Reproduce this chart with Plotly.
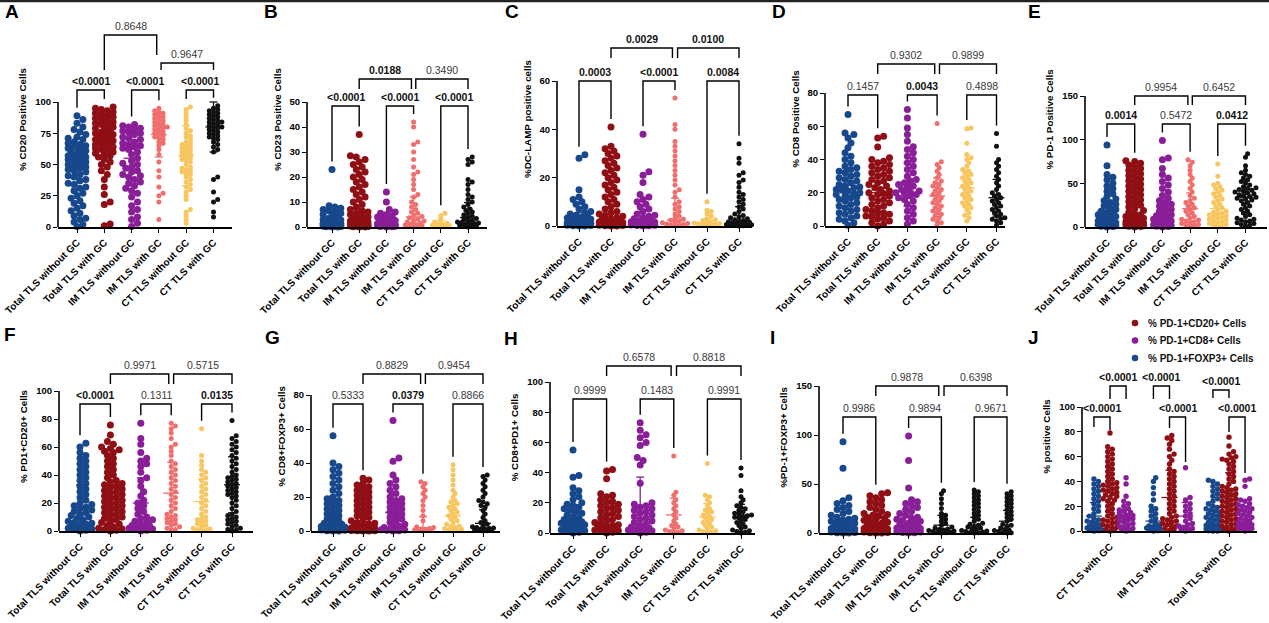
import plotly.graph_objects as go

W, H = 1269, 623
FONT = "Liberation Sans"
BLUE, RED, PURPLE, PINK, YELLOW, BLACK = "#17488c", "#8f0f14", "#8a1e98", "#f06e6e", "#f7c65e", "#111111"

categories = ["Total TLS without GC", "Total TLS with GC", "IM TLS without GC",
              "IM TLS with GC", "CT TLS without GC", "CT TLS with GC"]
j_categories = ["CT TLS with GC", "IM TLS with GC", "Total TLS with GC"]
j_series = ["% PD-1+CD20+ Cells", "% PD-1+CD8+ Cells", "% PD-1+FOXP3+ Cells"]

# ---------------- A : % CD20 ----------------
A_tot_wo = [0.5, 2, 4, 6, 7, 9, 11, 13, 15, 17, 19, 21, 23, 25, 27, 29, 31, 32, 34, 35, 37, 38, 40, 41, 42, 44, 45, 46, 47, 48, 49, 50, 51, 52, 53, 54, 55, 56, 57, 57, 58, 59, 60, 61, 62, 63, 64, 65, 66, 67, 68, 70, 71, 72, 74, 76, 78, 80, 83, 86, 89]
A_tot_w = [1, 2.5, 18, 20, 26, 32, 38, 42, 45, 48, 50, 52, 54, 56, 57, 58, 59, 60, 61, 62, 63, 64, 65, 66, 66, 67, 68, 68, 69, 70, 70, 71, 72, 72, 73, 74, 75, 75, 76, 77, 78, 79, 80, 81, 82, 83, 84, 85, 86, 87, 88, 89, 90, 91, 92, 93, 94, 95, 96]
A_im_wo = [0.5, 3, 6, 8, 12, 14, 17, 20, 24, 27, 29, 31, 33, 35, 36, 38, 40, 41, 42, 44, 45, 47, 48, 50, 51, 53, 55, 58, 60, 62, 63, 64, 65, 66, 67, 68, 70, 71, 72, 74, 75, 76, 77, 78, 79, 80, 81, 82]
A_im_w = [6, 20, 25, 27, 32, 40, 45, 52, 58, 62, 65, 67, 68, 70, 71, 72, 73, 74, 75, 76, 77, 78, 79, 80, 80, 81, 82, 83, 84, 85, 86, 87, 88, 89, 90, 91, 92, 93, 95]
A_ct_wo = [3, 6, 9, 12, 14, 22, 25, 28, 30, 32, 34, 36, 38, 40, 42, 43, 44, 45, 46, 47, 48, 50, 52, 53, 54, 55, 56, 57, 58, 59, 60, 61, 62, 63, 64, 65, 66, 67, 68, 70, 72, 73, 75, 77, 79, 82, 85, 88, 91, 94, 96]
A_ct_w = [8, 12, 20, 22, 28, 38, 40, 60, 62, 64, 66, 68, 70, 71, 72, 73, 74, 75, 76, 77, 78, 79, 80, 80, 81, 82, 83, 84, 84, 85, 86, 87, 88, 89, 90, 91, 92, 93, 94, 95, 97]
A_mean = [49, 70, 55, 74, 57, 80]
A_sd = [22, 20, 22, 18, 24, 20]

# ---------------- B : % CD23 ----------------
B_tot_wo = [0, 0, 0.1, 0.2, 0.2, 0.3, 0.4, 0.5, 0.5, 0.6, 0.7, 0.8, 0.9, 1, 1, 1.1, 1.2, 1.3, 1.4, 1.5, 1.6, 1.8, 2, 2.2, 2.5, 2.8, 3, 3.5, 4, 4.5, 5, 5.5, 6, 6.5, 7, 7.5, 8, 8.5, 23]
B_tot_w = [0, 0, 0.1, 0.2, 0.3, 0.4, 0.5, 0.6, 0.7, 0.8, 0.9, 1, 1.1, 1.2, 1.4, 1.6, 1.8, 2, 2.2, 2.4, 2.7, 3, 3.3, 3.7, 4, 4.5, 5, 5.5, 6, 6.5, 7, 8, 9, 10, 11, 12, 13, 14, 15, 16, 17, 18, 19, 20, 21, 22, 23, 24, 25, 26, 27, 28, 28.5, 37]
B_im_wo = [0, 0.1, 0.2, 0.3, 0.4, 0.5, 0.6, 0.7, 0.8, 0.9, 1, 1.2, 1.4, 1.6, 1.8, 2, 2.3, 2.6, 3, 3.5, 4, 4.5, 5, 5.5, 6, 7, 10, 14]
B_im_w = [0, 0.2, 0.4, 0.6, 0.8, 1, 1.3, 1.6, 2, 2.4, 2.8, 3.2, 3.7, 4.2, 4.8, 5.5, 6, 7, 8, 9, 10, 12, 13, 15, 17, 19, 21, 22, 24, 27, 30, 33, 34, 40, 42]
B_ct_wo = [0, 0.2, 0.4, 0.6, 0.8, 1, 1.2, 1.5, 2, 3, 4.5, 5.5]
B_ct_w = [0, 0.2, 0.4, 0.6, 0.8, 1, 1.2, 1.4, 1.6, 1.8, 2, 2.3, 2.6, 3, 3.4, 3.8, 4.3, 4.8, 5.4, 6, 6.6, 7.2, 8, 9, 10, 11, 12, 13, 15, 17, 18, 19, 25, 26, 27, 28]
B_mean = [1.5, 2.5, 1.5, 4, 1, 3.8]
B_sd = [3, 6, 2.5, 8, 1.5, 6]

# ---------------- C : % DC-LAMP ----------------
C_tot_wo = [0, 0, 0.1, 0.2, 0.3, 0.4, 0.5, 0.6, 0.7, 0.8, 0.9, 1, 1.1, 1.2, 1.4, 1.6, 1.8, 2, 2.2, 2.5, 2.8, 3, 3.3, 3.6, 4, 4.5, 5, 5.5, 6, 7, 8, 9, 10, 11, 12, 15, 28, 29.5]
C_tot_w = [0, 0, 0.1, 0.2, 0.3, 0.4, 0.5, 0.6, 0.8, 1, 1.1, 1.3, 1.5, 1.7, 2, 2.2, 2.5, 2.8, 3, 3.5, 4, 4.5, 5, 5.5, 6, 7, 8, 9, 10, 11, 12, 13, 14, 15, 16, 17, 18, 19, 20, 21, 22, 23, 24, 25, 26, 27, 28, 29, 30, 31, 32, 33, 41]
C_im_wo = [0, 0.1, 0.2, 0.3, 0.4, 0.5, 0.6, 0.7, 0.8, 1, 1.2, 1.4, 1.6, 1.8, 2, 2.3, 2.6, 3, 3.5, 4, 4.5, 5, 6, 7, 8, 9, 10, 11, 12, 13, 18, 21, 22.5, 38]
C_im_w = [0, 0.2, 0.4, 0.6, 0.8, 1, 1.3, 1.6, 2, 2.4, 2.8, 3.3, 4, 5, 6, 7, 8, 9, 10, 12, 14, 15, 17, 19, 21, 23, 25, 27, 29, 31, 33, 35, 40, 42, 53]
C_ct_wo = [0, 0.2, 0.4, 0.6, 0.8, 1, 1.2, 1.5, 1.8, 2.2, 2.6, 3, 4, 5, 6, 6.5, 10]
C_ct_w = [0, 0.1, 0.2, 0.3, 0.4, 0.5, 0.6, 0.8, 1, 1.2, 1.4, 1.6, 1.8, 2, 2.3, 2.6, 3, 3.4, 3.8, 4.3, 5, 6, 7, 8, 9, 10, 11, 12, 13, 14, 16, 18, 19, 21, 22, 26, 28, 34]
C_mean = [1.5, 2, 1.5, 2.5, 1, 2]
C_sd = [4, 7, 5, 9, 2, 6]

# ---------------- D : % CD8 ----------------
D_tot_wo = [0.5, 2, 3, 4, 5, 6, 7, 8, 9, 10, 11, 12, 13, 14, 15, 16, 17, 17.5, 18, 19, 19.5, 20, 21, 21.5, 22, 23, 23.5, 24, 25, 26, 27, 28, 29, 30, 31, 32, 33, 34, 35, 36, 38, 40, 42, 44, 47, 50, 53, 55, 56, 67]
D_tot_w = [0, 1, 2, 3, 4, 5, 5.5, 6, 7, 7.5, 8, 9, 10, 11, 12, 13, 14, 15, 16, 17, 18, 19, 19.5, 20, 21, 22, 23, 24, 25, 26, 27, 28, 29, 30, 31, 32, 33, 34, 35, 36, 37, 38, 39, 40, 41, 47.5, 53, 54]
D_im_wo = [1, 3, 5, 7, 9, 11, 13, 15, 16, 17, 18, 19, 19.5, 20, 20.5, 21, 22, 23, 24, 25, 26, 27, 28, 30, 32, 34, 36, 38, 40, 42, 44, 46, 47.7, 51, 55, 59, 65, 70]
D_im_w = [0.5, 2, 3, 4, 5, 6, 7, 8, 9, 10, 11, 12, 13, 14, 15, 16, 17, 18, 19, 20, 21, 22, 23, 24, 25, 26, 27, 29, 31, 33, 35, 37, 38.7, 61.7]
D_ct_wo = [3, 5, 6.5, 8, 10, 11, 12, 13, 14, 15, 16, 17, 18, 19, 20, 21, 22, 23, 24, 25, 26, 27, 28, 29, 30, 31, 32, 33, 34, 36, 38, 40, 41, 43, 49.7, 58.5, 59]
D_ct_w = [0.5, 2, 3, 4, 4.5, 5, 6, 7, 8, 9, 10, 11, 12, 13, 14, 15, 16, 17, 18, 19, 20, 22, 24, 26, 28, 30, 32, 34, 36, 38, 40, 48, 55.7]
D_mean = [22, 20, 25, 18, 23, 17]
D_sd = [12, 11, 13, 11, 11, 11]

# ---------------- E : % PD-1 ----------------
E_tot_wo = [0, 0.5, 1, 1.5, 2, 2.5, 3, 3.5, 4, 4.5, 5, 6, 7, 8, 9, 10, 11, 12, 13, 14, 15, 16, 17, 18, 20, 22, 24, 26, 28, 30, 32, 35, 38, 41, 44, 47, 50, 54, 57, 60, 70, 94]
E_tot_w = [0, 0.5, 1, 1.5, 2, 2.5, 3, 3.5, 4, 4.5, 5, 5.5, 6, 6.5, 7, 8, 9, 10, 11, 12, 13, 14, 15, 17, 19, 21, 23, 25, 27, 29, 31, 33, 35, 37, 39, 41, 43, 45, 47, 49, 51, 53, 55, 57, 59, 61, 63, 65, 67, 69, 71, 73, 75, 76]
E_im_wo = [0, 0.5, 1, 1.5, 2, 2.5, 3, 4, 5, 6, 7, 8, 9, 10, 11, 12, 13, 14, 16, 18, 20, 22, 24, 26, 28, 30, 33, 36, 40, 44, 48, 52, 56, 60, 67, 77, 79, 99]
E_im_w = [0, 1, 2, 3, 4, 5, 6, 7, 8, 9, 10, 12, 14, 16, 18, 20, 22, 24, 26, 28, 30, 33, 36, 40, 44, 48, 52, 56, 60, 65, 70, 74, 77]
E_ct_wo = [0, 1, 2, 3, 4, 5, 6, 7, 8, 9, 10, 11, 12, 13, 14, 15, 16, 17, 18, 20, 22, 24, 26, 28, 30, 32, 34, 36, 38, 40, 42, 44, 46, 48, 50, 58, 72]
E_ct_w = [1, 2, 3, 4, 5, 6, 7, 8, 9, 10, 12, 14, 16, 18, 20, 22, 24, 26, 28, 30, 31, 32, 33, 34, 35, 36, 37, 38, 39, 40, 41, 42, 43, 44, 45, 46, 48, 50, 52, 54, 56, 58, 60, 62, 65, 70, 80, 84]
E_mean = [13, 27, 15, 21, 21, 34]
E_sd = [15, 20, 17, 18, 15, 19]

# ---------------- F : % PD1+CD20+ ----------------
F_tot_wo = [0, 0.5, 1, 1.5, 2, 2.5, 3, 3.5, 4, 4.5, 5, 5.5, 6, 7, 8, 9, 10, 11, 12, 13, 14, 15, 16, 17, 18, 19, 20, 22, 24, 26, 28, 30, 32, 34, 36, 38, 40, 42, 44, 46, 48, 50, 52, 54, 56, 60, 62.6]
F_tot_w = [0, 0.5, 1, 1.5, 2, 3, 4, 5, 6, 7, 8, 9, 10, 11, 12, 13, 14, 15, 16, 17, 18, 19, 20, 21, 22, 23, 24, 25, 26, 27, 28, 29, 30, 31, 32, 33, 34, 35, 36, 38, 40, 42, 44, 46, 48, 50, 52, 54, 56, 57, 58, 59, 60, 62, 64, 68.6, 75.7]
F_im_wo = [0, 0.5, 1, 1.5, 2, 2.5, 3, 3.5, 4, 5, 6, 7, 8, 9, 10, 12, 14, 16, 18, 20, 22, 25, 28, 32, 36, 38, 42, 46, 48, 50, 52, 56, 62, 66, 77]
F_im_w = [0.5, 1, 2, 3, 4, 5, 6, 7, 8, 9, 10, 11, 12, 14, 16, 18, 20, 22, 24, 26, 28, 30, 32, 34, 36, 38, 40, 42, 44, 46, 48, 50, 54, 57, 60, 62, 66, 70, 73, 75, 77]
F_ct_wo = [0, 0.5, 1, 1.5, 2, 3, 4, 5, 6, 7, 8, 9, 10, 12, 14, 16, 18, 20, 22, 24, 26, 28, 30, 32, 34, 36, 38, 40, 42, 44, 47, 50, 54, 73]
F_ct_w = [0, 0.5, 1, 2, 3, 4, 5, 6, 7, 8, 9, 10, 11, 12, 14, 16, 18, 20, 22, 24, 25, 26, 27, 28, 29, 30, 31, 32, 33, 34, 35, 36, 37, 38, 39, 40, 42, 44, 46, 48, 50, 52, 54, 56, 58, 60, 62, 64, 66, 68, 79]
F_mean = [17, 28, 20, 27, 21, 33]
F_sd = [16, 19, 18, 22, 16, 20]

# ---------------- G : % CD8+FOXP3+ ----------------
G_tot_wo = [0, 0, 0.2, 0.4, 0.6, 0.8, 1, 1.2, 1.4, 1.6, 1.8, 2, 2.3, 2.6, 3, 3.5, 4, 4.5, 5, 6, 7, 8, 9, 10, 11, 12, 13, 14, 15, 16, 17, 18, 19, 20, 22, 24, 26, 28, 30, 32, 34, 36, 38, 40, 56]
G_tot_w = [0, 0, 0.1, 0.2, 0.3, 0.4, 0.5, 0.6, 0.8, 1, 1.2, 1.4, 1.6, 1.8, 2, 2.3, 2.6, 3, 3.5, 4, 4.5, 5, 6, 7, 8, 9, 10, 11, 12, 13, 14, 15, 16, 17, 18, 19, 20, 21, 22, 23, 24, 25, 26, 27, 28, 30, 31]
G_im_wo = [0, 0.2, 0.4, 0.6, 0.8, 1, 1.3, 1.6, 2, 2.5, 3, 4, 5, 6, 7, 8, 9, 10, 11, 12, 13, 14, 15, 16, 17, 18, 19, 20, 22, 24, 26, 28, 30, 33, 41, 43, 65]
G_im_w = [0, 0.2, 0.4, 0.6, 0.8, 1, 1.2, 1.5, 2, 2.5, 6, 9, 12, 15, 18, 20, 22, 24, 26, 28, 29]
G_ct_wo = [0, 0.3, 0.6, 1, 1.5, 2, 2.5, 3, 4, 5, 6, 7, 8, 9, 10, 11, 12, 13, 14, 15, 16, 17, 18, 20, 22, 24, 27, 30, 33, 36, 39]
G_ct_w = [0, 0.2, 0.4, 0.6, 0.8, 1, 1.2, 1.5, 1.8, 2, 2.5, 3, 4, 5, 6, 8, 10, 12, 14, 15, 16, 17, 18, 20, 22, 24, 26, 28, 30, 32, 33]
G_mean = [9.5, 5.5, 11, 1.5, 9, 4.5]
G_sd = [11, 8, 11, 7, 9, 8]

# ---------------- H : % CD8+PD1+ ----------------
H_tot_wo = [0, 0.5, 1, 1.5, 2, 2.5, 3, 3.5, 4, 4.5, 5, 5.5, 6, 6.5, 7, 7.5, 8, 9, 10, 11, 12, 13, 14, 15, 16, 17, 18, 19, 20, 22, 24, 26, 28, 30, 37, 38, 55]
H_tot_w = [0, 0.5, 1, 1.5, 2, 2.5, 3, 3.5, 4, 4.5, 5, 5.5, 6, 7, 8, 9, 10, 11, 12, 13, 14, 15, 16, 17, 18, 19, 20, 21, 22, 24, 25, 26, 36, 41, 42]
H_im_wo = [0, 0.5, 1, 1.5, 2, 2.5, 3, 3.5, 4, 5, 6, 7, 8, 9, 10, 11, 12, 13, 14, 15, 16, 17, 18, 19, 20, 33, 45, 48, 50, 58, 60, 63, 65, 68, 73]
H_im_w = [0, 0.5, 1, 1.5, 2, 3, 4, 5, 6, 8, 10, 12, 14, 16, 18, 20, 22, 25, 27, 51]
H_ct_wo = [0, 0.5, 1, 1.5, 2, 3, 4, 5, 6, 7, 8, 9, 10, 11, 12, 13, 14, 15, 16, 18, 20, 22, 24, 25, 46]
H_ct_w = [0, 0.5, 1, 1.5, 2, 3, 4, 5, 6, 7, 8, 9, 10, 10.5, 11, 11.5, 12, 12.5, 13, 14, 15, 16, 17, 18, 20, 22, 24, 28, 38, 43]
H_mean = [9, 9.5, 17, 12, 10.5, 10]
H_sd = [10, 8, 20, 11, 9, 9]

# ---------------- I : % PD-1+FOXP3+ ----------------
I_tot_wo = [0, 0, 0.3, 0.6, 1, 1.3, 1.6, 2, 2.3, 2.6, 3, 3.5, 4, 4.5, 5, 5.5, 6, 7, 8, 9, 10, 11, 12, 13, 14, 15, 16, 18, 20, 22, 24, 26, 28, 30, 33, 36, 66, 93]
I_tot_w = [0, 0, 0.3, 0.6, 1, 1.3, 1.6, 2, 2.4, 2.8, 3.2, 3.6, 4, 4.5, 5, 6, 7, 8, 9, 10, 11, 12, 13, 14, 15, 16, 17, 18, 19, 20, 22, 24, 26, 28, 30, 32, 34, 36, 38, 40, 41]
I_im_wo = [0, 0.3, 0.6, 1, 1.3, 1.6, 2, 2.4, 2.8, 3.2, 3.6, 4, 4.5, 5, 6, 7, 8, 9, 10, 11, 12, 13, 14, 15, 16, 18, 20, 22, 24, 26, 28, 30, 32, 34, 46, 74, 99]
I_im_w = [0, 0.3, 0.6, 1, 1.5, 2, 2.5, 3, 3.5, 4, 5, 6, 8, 10, 12, 14, 16, 18, 20, 25, 30, 35, 40, 43]
I_ct_wo = [0, 0.3, 0.6, 1, 1.5, 2, 2.5, 3, 4, 5, 6, 7, 8, 9, 10, 12, 14, 16, 18, 20, 22, 24, 26, 28, 30, 32, 34, 36, 38, 40, 42, 44]
I_ct_w = [0, 0.3, 0.6, 1, 1.5, 2, 2.5, 3, 3.5, 4, 5, 6, 7, 8, 9, 10, 12, 14, 16, 18, 20, 22, 24, 26, 28, 30, 32, 34, 36, 38, 40, 42]
I_mean = [5, 10, 6, 8, 6, 12]
I_sd = [10, 10, 12, 10, 10, 11]

# ---------------- p-value labels (label, bold) ----------------
A_p = [("<0.0001", 1), ("<0.0001", 1), ("<0.0001", 1), ("0.8648", 0), ("0.9647", 0)]
B_p = [("<0.0001", 1), ("<0.0001", 1), ("<0.0001", 1), ("0.0188", 1), ("0.3490", 0)]
C_p = [("0.0003", 1), ("<0.0001", 1), ("0.0084", 1), ("0.0029", 1), ("0.0100", 1)]
D_p = [("0.1457", 0), ("0.0043", 1), ("0.4898", 0), ("0.9302", 0), ("0.9899", 0)]
E_p = [("0.0014", 1), ("0.5472", 0), ("0.0412", 1), ("0.9954", 0), ("0.6452", 0)]
F_p = [("<0.0001", 1), ("0.1311", 0), ("0.0135", 1), ("0.9971", 0), ("0.5715", 0)]
G_p = [("0.5333", 0), ("0.0379", 1), ("0.8866", 0), ("0.8829", 0), ("0.9454", 0)]
H_p = [("0.9999", 0), ("0.1483", 0), ("0.9991", 0), ("0.6578", 0), ("0.8818", 0)]
I_p = [("0.9986", 0), ("0.9894", 0), ("0.9671", 0), ("0.9878", 0), ("0.6398", 0)]
J_p = [("<0.0001", 1)] * 6

STD_COLORS = [BLUE, RED, PURPLE, PINK, YELLOW, BLACK]
I_COLORS = [BLUE, RED, PURPLE, BLACK, BLACK, BLACK]

# geometry (pixels): y-axis x, x-axis end, first category, spacing, zero y, top tick y
panels = [
    dict(L="A", row=0, ax0=58, ax1=232, c0=77, dx=27.3, y0=227, yt=102, ytv=100, ticks=[0, 25, 50, 75, 100],
         title="% CD20 Positive Cells", data=[A_tot_wo, A_tot_w, A_im_wo, A_im_w, A_ct_wo, A_ct_w],
         mean=A_mean, sd=A_sd, colors=STD_COLORS, p=A_p, low=90, up=[(35, 70, 55), (63, 70, 70)], lx=(3, 12)),
    dict(L="B", row=0, ax0=307, ax1=487, c0=332, dx=27.2, y0=227, yt=102, ytv=50, ticks=[0, 10, 20, 30, 40, 50],
         title="% CD23 Positive Cells", data=[B_tot_wo, B_tot_w, B_im_wo, B_im_w, B_ct_wo, B_ct_w],
         mean=B_mean, sd=B_sd, colors=STD_COLORS, p=B_p, low=106, up=[(79, 89, 89), (79, 89, 89)], lx=(262, 12)),
    dict(L="C", row=0, ax0=557, ax1=752, c0=579, dx=32, y0=226, yt=81, ytv=60, ticks=[0, 20, 40, 60],
         title="%DC-LAMP positive cells", data=[C_tot_wo, C_tot_w, C_im_wo, C_im_w, C_ct_wo, C_ct_w],
         mean=C_mean, sd=C_sd, colors=STD_COLORS, p=C_p, low=81, up=[(48, 58, 58), (48, 58, 58)], lx=(503, 12)),
    dict(L="D", row=0, ax0=825, ax1=1005, c0=848, dx=29.7, y0=226, yt=93, ytv=80, ticks=[0, 20, 40, 60, 80],
         title="% CD8 Positive Cells", data=[D_tot_wo, D_tot_w, D_im_wo, D_im_w, D_ct_wo, D_ct_w],
         mean=D_mean, sd=D_sd, colors=STD_COLORS, p=D_p, low=95, up=[(64, 74, 74), (64, 74, 74)], lx=(770, 12)),
    dict(L="E", row=0, ax0=1085, ax1=1267, c0=1107, dx=27.7, y0=227, yt=96, ytv=150, ticks=[0, 50, 100, 150],
         title="% PD-1 Positive Cells", data=[E_tot_wo, E_tot_w, E_im_wo, E_im_w, E_ct_wo, E_ct_w],
         mean=E_mean, sd=E_sd, colors=STD_COLORS, p=E_p, low=124, up=[(96, 105, 105), (96, 105, 105)], lx=(1026, 12)),
    dict(L="F", row=1, ax0=59, ax1=253, c0=80, dx=30.4, y0=531, yt=391, ytv=100, ticks=[0, 20, 40, 60, 80, 100],
         title="% PD1+CD20+ Cells", data=[F_tot_wo, F_tot_w, F_im_wo, F_im_w, F_ct_wo, F_ct_w],
         mean=F_mean, sd=F_sd, colors=STD_COLORS, p=F_p, low=404, up=[(374, 384, 384), (374, 384, 384)], lx=(2, 334)),
    dict(L="G", row=1, ax0=311, ax1=500, c0=333, dx=30, y0=531, yt=395, ytv=80, ticks=[0, 20, 40, 60, 80],
         title="% CD8+FOXP3+ Cells", data=[G_tot_wo, G_tot_w, G_im_wo, G_im_w, G_ct_wo, G_ct_w],
         mean=G_mean, sd=G_sd, colors=STD_COLORS, p=G_p, low=404, up=[(374, 384, 384), (374, 384, 384)], lx=(263, 337)),
    dict(L="H", row=1, ax0=550, ax1=755, c0=573, dx=33.6, y0=533, yt=382, ytv=100, ticks=[0, 20, 40, 60, 80, 100],
         title="% CD8+PD1+ Cells", data=[H_tot_wo, H_tot_w, H_im_wo, H_im_w, H_ct_wo, H_ct_w],
         mean=H_mean, sd=H_sd, colors=STD_COLORS, p=H_p, low=399, up=[(366, 376, 376), (366, 376, 376)], lx=(502, 338)),
    dict(L="I", row=1, ax0=819, ax1=1012, c0=843, dx=32.8, y0=533, yt=386, ytv=150, ticks=[0, 50, 100, 150],
         title="%PD-1+FOXP3+ Cells", data=[I_tot_wo, I_tot_w, I_im_wo, I_im_w, I_ct_wo, I_ct_w],
         mean=I_mean, sd=I_sd, colors=I_COLORS, p=I_p, low=417, up=[(386, 396, 396), (386, 396, 396)], lx=(768, 337)),
]

# J re-uses the "with GC" groups of F (CD20), H (CD8) and I (FOXP3)
J_groups = [  # (cluster, offset index, values, mean, sd, color)
    (0, -1, I_ct_w, I_mean[5], I_sd[5], BLUE), (0, 0, F_ct_w, F_mean[5], F_sd[5], RED), (0, 1, H_ct_w, H_mean[5], H_sd[5], PURPLE),
    (1, -1, I_im_w, I_mean[3], I_sd[3], BLUE), (1, 0, F_im_w, F_mean[3], F_sd[3], RED), (1, 1, H_im_w, H_mean[3], H_sd[3], PURPLE),
    (2, -1, I_tot_w, I_mean[1], I_sd[1], BLUE), (2, 0, F_tot_w, F_mean[1], F_sd[1], RED), (2, 1, H_tot_w, H_mean[1], H_sd[1], PURPLE),
]
J = dict(L="J", row=1, ax0=1082, ax1=1257, c0=1110, dx=59.5, y0=531, yt=407, ytv=100, ticks=[0, 20, 40, 60, 80, 100],
         title="% positive Cells", lx=(1026, 337))
J_off = 0.27
# (xa, xb, top px, left leg bottom px, right leg bottom px)
J_brackets = [(-J_off, 0, 417, 427, 430), (0, J_off, 386, 399, 399), (1 - J_off, 1, 386, 399, 399),
              (1, 1 + J_off, 417, 428, 462), (2 - J_off, 2, 390, 398, 398), (2, 2 + J_off, 417, 432, 473)]


def swarm(vals, ppu, dxpx, diam, maxhalf):
    placed = []
    xs, ys = [], []
    step = diam * 0.42
    cand = [0.0]
    k = 1
    while k * step <= maxhalf:
        cand += [k * step, -k * step]
        k += 1
    for v in sorted(vals):
        y = v * ppu
        chosen, best, bestd = None, 0.0, -1
        for c in cand:
            dmin = min((((c - px) ** 2 + (y - py) ** 2) ** 0.5 for px, py in placed), default=1e9)
            if dmin >= diam * 0.72:
                chosen = c
                break
            if dmin > bestd:
                bestd, best = dmin, c
        if chosen is None:
            chosen = best
        placed.append((chosen, y))
        xs.append(chosen / dxpx)
        ys.append(v)
    return xs, ys


fig = go.Figure()
layout = {}
shapes, annots = [], []
tickfont = dict(family=FONT, size=10, color="black", weight="bold")


def axes_for(k, p, tickvals, ticktext):
    xa = "x" if k == 1 else f"x{k}"
    ya = "y" if k == 1 else f"y{k}"
    top = 12 if p["row"] == 0 else 342
    ppu = (p["y0"] - p["yt"]) / p["ytv"]
    ymax = (p["y0"] - top) / ppu
    xr = [(p["ax0"] - p["c0"]) / p["dx"], (p["ax1"] - p["c0"]) / p["dx"]]
    layout["xaxis" if k == 1 else f"xaxis{k}"] = dict(
        domain=[p["ax0"] / W, p["ax1"] / W], range=xr, anchor=ya, showline=True, linecolor="black",
        linewidth=1.6, ticks="outside", ticklen=4, tickwidth=1.4, tickcolor="black",
        tickvals=tickvals, ticktext=ticktext, tickangle=-45, tickfont=tickfont, automargin=False,
        showgrid=False, zeroline=False, fixedrange=True)
    layout["yaxis" if k == 1 else f"yaxis{k}"] = dict(
        domain=[1 - p["y0"] / H, 1 - top / H], range=[0, ymax], anchor=xa, showline=False,
        ticks="outside", ticklen=4, tickwidth=1.4, tickcolor="black", tickvals=p["ticks"], automargin=False,
        tickfont=dict(family=FONT, size=9.5, color="black", weight="bold"),
        title=dict(text=p["title"], font=dict(family=FONT, size=9.8, color="black", weight="bold"), standoff=6),
        showgrid=False, zeroline=False, fixedrange=True)
    shapes.append(dict(type="line", xref=f"{xa} domain", yref=ya, x0=0, x1=0, y0=0, y1=p["ytv"],
                       line=dict(color="black", width=1.6)))
    annots.append(dict(text=p["L"], xref="paper", yref="paper", x=p["lx"][0] / W, y=1 - p["lx"][1] / H,
                       xanchor="left", yanchor="middle", showarrow=False,
                       font=dict(family=FONT, size=19, color="black", weight="bold")))
    return xa, ya, ppu


def mean_sd_trace(xc, m, sd, hw, cw, color, xa, ya):
    lo = max(0, m - sd)
    xs = [xc - hw, xc + hw, None, xc, xc, None, xc - cw, xc + cw]
    ys = [m, m, None, lo, m + sd, None, m + sd, m + sd]
    if m - sd > 0:
        xs += [None, xc - cw, xc + cw]
        ys += [None, lo, lo]
    return go.Scatter(x=xs, y=ys, mode="lines", line=dict(color=color, width=1.3), xaxis=xa, yaxis=ya,
                      hoverinfo="skip", showlegend=False, cliponaxis=False)


def bracket(xa, ya, x0, x1, top, b0, b1, label, bold, ppu, y0px):
    tv = (y0px - top) / ppu
    v0 = (y0px - b0) / ppu
    v1 = (y0px - b1) / ppu
    shapes.append(dict(type="path", xref=xa, yref=ya,
                       path=f"M {x0},{v0} L {x0},{tv} L {x1},{tv} L {x1},{v1}",
                       line=dict(color="black", width=1.4)))
    annots.append(dict(text=label, xref=xa, yref=ya, x=(x0 + x1) / 2, y=tv, xanchor="center", yanchor="bottom",
                       yshift=1, showarrow=False,
                       font=dict(family=FONT, size=10.5, color="#111" if bold else "#3a3a3a",
                                 weight="bold" if bold else "normal")))


for k, p in enumerate(panels, start=1):
    xa, ya, ppu = axes_for(k, p, list(range(6)), categories)
    for i, vals in enumerate(p["data"]):
        diam = 7 if i < 3 else 5
        xs, ys = swarm(vals, ppu, p["dx"], diam, 0.42 * p["dx"])
        fig.add_trace(go.Scatter(x=[i + x for x in xs], y=ys, mode="markers",
                                 marker=dict(size=diam, color=p["colors"][i], line=dict(width=0)),
                                 xaxis=xa, yaxis=ya, cliponaxis=False, hoverinfo="skip", showlegend=False))
        fig.add_trace(mean_sd_trace(i, p["mean"][i], p["sd"][i], 8 / p["dx"], 4 / p["dx"], p["colors"][i], xa, ya))
    # lower brackets: legs stop just above each group's highest point
    for n, (a, b) in enumerate([(0, 1), (2, 3), (4, 5)]):
        ba = max(p["low"] + 4, p["y0"] - max(p["data"][a]) * ppu - 8)
        bb = max(p["low"] + 4, p["y0"] - max(p["data"][b]) * ppu - 8)
        bracket(xa, ya, a, b, p["low"], ba, bb, p["p"][n][0], p["p"][n][1], ppu, p["y0"])
    for n, ((a, b), (top, b0, b1)) in enumerate(zip([(1, 2.92), (3.08, 5)], p["up"])):
        bracket(xa, ya, a, b, top, b0, b1, p["p"][3 + n][0], p["p"][3 + n][1], ppu, p["y0"])

# panel J
k = 10
xa, ya, ppu = axes_for(k, J, [0, 1, 2], j_categories)
for cl, oi, vals, m, sd, col in J_groups:
    xc = cl + oi * J_off
    xs, ys = swarm(vals, ppu, J["dx"], 5.4, 7.5)
    fig.add_trace(go.Scatter(x=[xc + x for x in xs], y=ys, mode="markers",
                             marker=dict(size=5.4, color=col, line=dict(width=0)),
                             xaxis=xa, yaxis=ya, cliponaxis=False, hoverinfo="skip", showlegend=False))
    fig.add_trace(mean_sd_trace(xc, m, sd, 8 / J["dx"], 4 / J["dx"], col, xa, ya))
for (x0, x1, top, b0, b1), (lab, bold) in zip(J_brackets, J_p):
    bracket(xa, ya, x0, x1, top, b0, b1, lab, bold, ppu, J["y0"])

# J legend
for n, (name, col) in enumerate(zip(j_series, [RED, PURPLE, BLUE])):
    yy = 1 - (323 + n * 17.5) / H
    shapes.append(dict(type="circle", xref="paper", yref="paper", xsizemode="pixel", ysizemode="pixel",
                       xanchor=1135 / W, yanchor=yy, x0=-3.3, x1=3.3, y0=-3.3, y1=3.3,
                       fillcolor=col, line=dict(width=0)))
    annots.append(dict(text=name, xref="paper", yref="paper", x=1146 / W, y=yy, xanchor="left",
                       yanchor="middle", showarrow=False,
                       font=dict(family=FONT, size=10, color="#111", weight="bold")))

# top border line
shapes.append(dict(type="line", xref="paper", yref="paper", x0=0, x1=1, y0=1 - 1 / H, y1=1 - 1 / H,
                   line=dict(color="#222", width=2.5)))

fig.update_layout(template="none", width=W, height=H, margin=dict(l=0, r=0, t=0, b=0, autoexpand=False),
                  paper_bgcolor="white", plot_bgcolor="rgba(0,0,0,0)", showlegend=False,
                  shapes=shapes, annotations=annots, font=dict(family=FONT, color="black"), **layout)
fig.write_html("out.html", config={"displayModeBar": False},
               post_script="document.body.style.margin='0px';document.body.style.overflow='hidden';")
